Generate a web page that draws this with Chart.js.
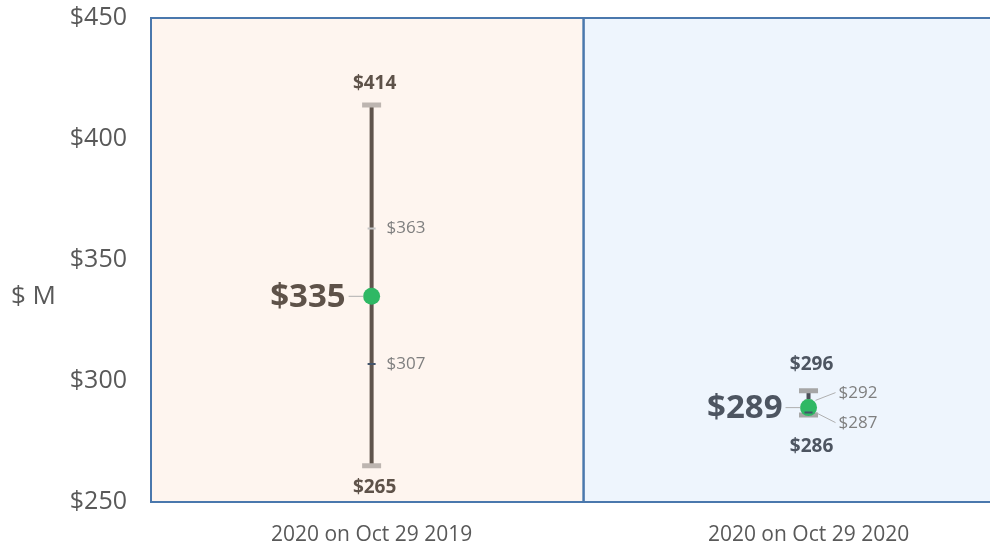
<!DOCTYPE html>
<html>
<head>
<meta charset="utf-8">
<script src="https://cdn.jsdelivr.net/npm/chart.js@4/dist/chart.umd.min.js"></script>
<style>
   html, body { margin: 0; padding: 0; background: #ffffff; }
   #wrap { width: 990px; height: 548px; position: relative; }
</style>
</head>
<body>
<div id="wrap"><canvas id="chart"></canvas></div>
<script>
'use strict';

// data
const categories = ['2020 on Oct 29 2019', '2020 on Oct 29 2020'];
const lowValues = [265, 286];
const q1Values = [307, 287];
const medianValues = [335, 289];
const q3Values = [363, 292];
const highValues = [414, 296];
const yTickValues = [250, 300, 350, 400, 450];

// layout / style
const xPos = [0.51, 1.52];
const panelFills = ['#fef5ef', '#eef5fd'];
const stemColors = ['#5f544c', '#4a4f57'];
const capColors = ['#bdb5b0', '#a6a6a6'];
const boldColors = ['#5e5249', '#4d5561'];
const smallColor = '#7f7f7f';
const axisColor = '#595959';
const borderColor = '#4a78ad';
const fontFamily = '"Open Sans", "Noto Sans", sans-serif';

function money(v) {
   return '$' + v;
}

function buildDatasets() {
   const sets = [];
   let i = 0;
   for (i = 0; i < categories.length; i++) {
      const x = xPos[i];
      sets.push({
         type: 'scatter', showLine: true, order: 5,
         data: [{ x: x, y: lowValues[i] }, { x: x, y: highValues[i] }],
         borderColor: stemColors[i], borderWidth: 4, pointRadius: 0
      });
      sets.push({
         type: 'scatter', order: 4,
         data: [{ x: x, y: q3Values[i] }],
         pointStyle: 'line', pointRadius: 4, borderWidth: 2,
         borderColor: '#c4c4c4', backgroundColor: '#c4c4c4'
      });
      sets.push({
         type: 'scatter', order: 3,
         data: [{ x: x, y: lowValues[i] }, { x: x, y: highValues[i] }],
         pointStyle: 'line', pointRadius: 9.5, borderWidth: 5,
         borderColor: capColors[i], backgroundColor: capColors[i]
      });
      sets.push({
         type: 'scatter', order: 2,
         data: [{ x: x, y: medianValues[i] }],
         pointStyle: 'circle', pointRadius: 8.5, borderWidth: 0,
         backgroundColor: '#2fb864', borderColor: '#2fb864'
      });
      sets.push({
         type: 'scatter', order: 1,
         data: [{ x: x, y: q1Values[i] }],
         pointStyle: 'line', pointRadius: 4, borderWidth: 2,
         borderColor: '#44546a', backgroundColor: '#44546a'
      });
   }
   return sets;
}

const panelPlugin = {
   id: 'panels',
   beforeDatasetsDraw(chart) {
      const ctx = chart.ctx;
      const area = chart.chartArea;
      const xs = chart.scales.x;
      const x0 = xs.getPixelForValue(0);
      const x1 = xs.getPixelForValue(1);
      const x2 = xs.getPixelForValue(2);
      ctx.save();
      ctx.fillStyle = panelFills[0];
      ctx.fillRect(x0, area.top, x1 - x0, area.bottom - area.top);
      ctx.fillStyle = panelFills[1];
      ctx.fillRect(x1, area.top, x2 - x1, area.bottom - area.top);
      ctx.strokeStyle = borderColor;
      ctx.lineWidth = 2;
      ctx.strokeRect(x0, area.top, x1 - x0, area.bottom - area.top);
      ctx.strokeRect(x1, area.top, x2 - x1, area.bottom - area.top);
      ctx.restore();
   }
};

const labelPlugin = {
   id: 'boxLabels',
   afterDatasetsDraw(chart) {
      const ctx = chart.ctx;
      const xs = chart.scales.x;
      const ys = chart.scales.y;
      ctx.save();
      // axis title, horizontal
      ctx.fillStyle = axisColor;
      ctx.font = '26px ' + fontFamily;
      ctx.textAlign = 'left';
      ctx.textBaseline = 'middle';
      ctx.fillText('$ M', 11, 297);

      let i = 0;
      for (i = 0; i < categories.length; i++) {
         const px = xs.getPixelForValue(xPos[i]);
         const yHigh = ys.getPixelForValue(highValues[i]);
         const yLow = ys.getPixelForValue(lowValues[i]);
         const yMed = ys.getPixelForValue(medianValues[i]);
         const yQ1 = ys.getPixelForValue(q1Values[i]);
         const yQ3 = ys.getPixelForValue(q3Values[i]);

         // quartile label spots, pushed apart when they crowd the median
         const lq3 = Math.min(yQ3, yMed - 14);
         const lq1 = Math.max(yQ1, yMed + 16);

         ctx.fillStyle = boldColors[i];
         ctx.textAlign = 'center';
         ctx.font = 'bold 19px ' + fontFamily;
         ctx.fillText(money(highValues[i]), px + 3, Math.min(yHigh - 22, lq3 - 29));
         ctx.fillText(money(lowValues[i]), px + 3, Math.max(yLow + 22, lq1 + 23));

         // median
         ctx.font = 'bold 33px ' + fontFamily;
         ctx.textAlign = 'right';
         ctx.fillText(money(medianValues[i]), px - 26, yMed + 1);
         ctx.strokeStyle = '#b0b0b0';
         ctx.lineWidth = 1;
         ctx.beginPath();
         ctx.moveTo(px - 23, yMed);
         ctx.lineTo(px - 8, yMed);
         ctx.stroke();

         ctx.font = '17px ' + fontFamily;
         ctx.textAlign = 'left';
         ctx.fillStyle = smallColor;
         [[yQ3, lq3, q3Values[i]], [yQ1, lq1, q1Values[i]]].forEach(function (q) {
            const moved = Math.abs(q[1] - q[0]) > 1;
            const tx = px + (moved ? 30 : 15);
            ctx.fillText(money(q[2]), tx, q[1]);
            if (moved) {
               ctx.beginPath();
               ctx.moveTo(px + 7, q[0]);
               ctx.lineTo(tx - 3, q[1] - 1);
               ctx.stroke();
            }
         });
      }
      ctx.restore();
   }
};

new Chart(document.getElementById('chart'), {
   data: { datasets: buildDatasets() },
   options: {
      responsive: true,
      maintainAspectRatio: false,
      animation: false,
      layout: { padding: { top: 18, right: 0, left: 0, bottom: 0 } },
      plugins: {
         legend: { display: false },
         tooltip: { enabled: false }
      },
      scales: {
         x: {
            type: 'linear',
            min: 0,
            max: 1.906,
            grid: { display: false, drawTicks: false },
            border: { display: false },
            afterBuildTicks: function (scale) {
               scale.ticks = xPos.map(function (v) { return { value: v }; });
            },
            afterFit: function (scale) {
               scale.height = 46;
               scale.paddingLeft = 0;
               scale.paddingRight = 0;
            },
            ticks: {
               padding: 20,
               maxRotation: 0,
               autoSkip: false,
               color: axisColor,
               font: { family: fontFamily, size: 21 },
               callback: function (value) {
                  const idx = xPos.indexOf(value);
                  return idx >= 0 ? categories[idx] : '';
               }
            }
         },
         y: {
            type: 'linear',
            min: 250,
            max: 450,
            grid: { display: false, drawTicks: false },
            border: { display: false },
            afterBuildTicks: function (scale) {
               scale.ticks = yTickValues.map(function (v) { return { value: v }; });
            },
            afterFit: function (scale) {
               scale.width = 151;
               scale.paddingTop = 0;
               scale.paddingBottom = 0;
            },
            ticks: {
               padding: 24,
               color: axisColor,
               font: { family: fontFamily, size: 25 },
               callback: function (value) { return money(value); }
            }
         }
      }
   },
   plugins: [panelPlugin, labelPlugin]
});
</script>
</body>
</html>
